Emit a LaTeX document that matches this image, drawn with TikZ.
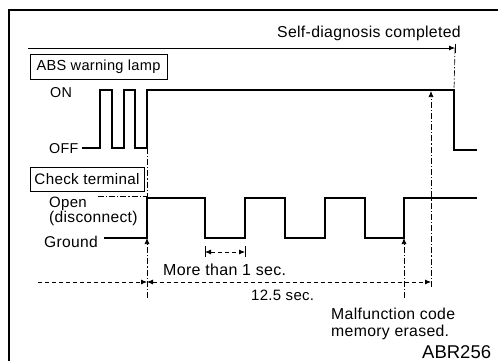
\documentclass[tikz,border=0pt]{standalone}
\usepackage{fontspec}
\setmainfont{Liberation Sans}[LetterSpace=2]
\newfontfamily\plainsans{Liberation Sans}
\usetikzlibrary{arrows.meta}
\begin{document}
\begin{tikzpicture}[x=1pt,y=-1pt,
  sig/.style={line width=1.6pt, line join=miter},
  lbl/.style={anchor=base west, inner sep=0pt, font=\fontsize{15}{16}\selectfont},
  tagbox/.style={draw, line width=0.8pt, inner sep=0pt},
  dd/.style={line width=0.7pt, dash pattern=on 6pt off 2pt on 1.2pt off 2pt},
  dsh/.style={line width=0.8pt, dash pattern=on 4pt off 3pt},
  tipe/.style={-{Latex[length=6pt,width=5pt]}},
  tipb/.style={{Latex[length=6pt,width=5pt]}-{Latex[length=6pt,width=5pt]}},
]
\fill[white] (0,0) rectangle (498,361);
\useasboundingbox (0,0) rectangle (498,361);
% frame
\draw[line width=1.3pt] (9,361) -- (9,10) -- (498,10);

% key coordinates
\coordinate (lampRise) at (147,148);
\coordinate (lampOn) at (147,90);
\coordinate (lampFallTop) at (454,90);
\coordinate (onMark) at (431,91);
\coordinate (chkRiseLow) at (147,238);
\coordinate (chkRiseHigh) at (147,198);
\coordinate (chkLastLow) at (404,238);
\coordinate (p205) at (205,238);
\coordinate (p245) at (245,238);
\coordinate (sdS) at (28,48);
\coordinate (sdE) at (455,48);
\coordinate (dimL) at (38,282);
\coordinate (dimM) at (147,282);
\coordinate (dimR) at (431,282);
\coordinate (vBot1) at (147,298);
\coordinate (vBot2) at (404,298);
\coordinate (vBot3) at (431,287);
\coordinate (openS) at (98,196);
\coordinate (openE) at (147,196);

% labels
\node[lbl, font=\fontsize{15.8}{17}\selectfont] (sdtxt) at (277,38) {Self-diagnosis completed};
\node[tagbox, minimum width=137pt, minimum height=25pt, font=\fontsize{14.6}{15}\selectfont] (abs) at (98.5,66.5) {ABS warning lamp};
\node[lbl, font=\fontsize{14.3}{15}\selectfont] (on) at (50,97) {ON};
\node[lbl, font=\fontsize{14.3}{15}\selectfont] (off) at (49,153) {OFF};
\node[tagbox, minimum width=114pt, minimum height=24pt, font=\fontsize{15.2}{16}\selectfont] (chk) at (87,179) {Check terminal};
\node[lbl] (open) at (49,207) {Open};
\node[lbl, font=\fontsize{15.6}{16}\selectfont] (disc) at (49,222) {(disconnect)};
\node[lbl, font=\fontsize{15.6}{16}\selectfont] (gnd) at (44,247) {Ground};
\node[lbl, font=\fontsize{16}{17}\selectfont] (more) at (163,275) {More than 1 sec.};
\node[lbl] (t125) at (251,300) {12.5 sec.};
\node[lbl, font=\fontsize{15.8}{17}\selectfont] (mal1) at (331,319) {Malfunction code};
\node[lbl, font=\fontsize{15.8}{17}\selectfont] (mal2) at (331,336) {memory erased.};
\node[anchor=base west, inner sep=0pt, font=\plainsans\fontsize{18.5}{20}\selectfont] (code) at (422,358) {ABR256};

% lamp waveform
\draw[sig] (82,148) -- (100,148) -- (100,90) -- (112,90) -- (112,148) -- (124,148)
  -- (124,90) -- (135,90) -- (135,148) -- (lampRise) -- (lampOn) -- (lampFallTop)
  -- (454,150) -- (477,150);

% check terminal waveform
\draw[sig] (104,238) -- (chkRiseLow) -- (chkRiseHigh) -- (205,198) -- (p205) -- (p245)
  -- (245,198) -- (285,198) -- (285,238) -- (325,238) -- (325,198) -- (365,198)
  -- (365,238) -- (chkLastLow) -- (404,198) -- (477,198);

% self-diagnosis arrow
\draw[line width=0.8pt, tipe] (sdS) -- (sdE);
\draw[line width=0.8pt] (455,44) -- (455,53);
\draw[dd] (sdE) -- (lampFallTop);

% dash-dot verticals
\draw[dd] (lampRise) -- (chkRiseHigh);
\draw[dd] (openS) -- (openE);
\draw[dd, tipe] (vBot1) -- (chkRiseLow);
\draw[dd, tipe] (vBot2) -- (chkLastLow);
\draw[dd, tipe] (vBot3) -- (onMark);

% more than 1 sec
\draw[line width=0.7pt] (205,246) -- (205,257);
\draw[line width=0.7pt] (245,246) -- (245,257);
\draw[dsh, tipb] (205,252) -- (245,252);

% 12.5 sec
\draw[dsh, tipe] (dimL) -- (dimM);
\draw[dsh, tipb] (dimM) -- (dimR);
\end{tikzpicture}
\end{document}
